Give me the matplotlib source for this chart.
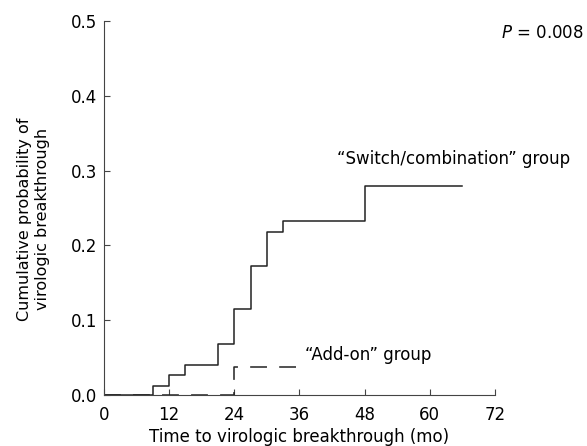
import matplotlib
matplotlib.use("Agg")
import matplotlib.pyplot as plt

# Kaplan-Meier style step data (months, cumulative prob.)
switch_t = [0, 9, 12, 15, 21, 24, 27, 30, 33, 48, 66]
switch_p = [0.0, 0.0125, 0.027, 0.040, 0.069, 0.115, 0.172, 0.218, 0.233, 0.279, 0.279]

addon_t = [0, 24, 36]
addon_p = [0.0, 0.038, 0.038]

x_ticks = [0, 12, 24, 36, 48, 60, 72]
y_ticks = [0.0, 0.1, 0.2, 0.3, 0.4, 0.5]

plt.rcParams['font.family'] = ['DejaVu Sans']

fig = plt.figure(figsize=(5.87, 4.46), dpi=100)
ax = fig.add_axes([0.177, 0.114, 0.666, 0.839])

ax.step(switch_t, switch_p, where='post', color='#222222', lw=1.1)
ax.step(addon_t, addon_p, where='post', color='#222222', lw=1.1,
        linestyle=(0, (11, 8)))

ax.set_xlim(0, 72)
ax.set_ylim(0, 0.5)
ax.set_xticks(x_ticks)
ax.set_yticks(y_ticks)
ax.set_yticklabels([f"{v:.1f}" for v in y_ticks])

for side in ['top', 'right']:
    ax.spines[side].set_visible(False)
for side in ['left', 'bottom']:
    ax.spines[side].set_color('#444444')
ax.tick_params(direction='in', length=4, color='#444444', labelsize=12)
ax.tick_params(axis='x', pad=8)
ax.tick_params(axis='y', pad=5)

ax.set_xlabel('Time to virologic breakthrough (mo)', fontsize=12, labelpad=3)
ax.set_ylabel('Cumulative probability of\nvirologic breakthrough',
              fontsize=11.5, labelpad=15, y=0.47)

ax.text(43, 0.316, '\u201cSwitch/combination\u201d group', fontsize=12,
        va='center', ha='left')
ax.text(37, 0.053, '\u201cAdd-on\u201d group', fontsize=12,
        va='center', ha='left')
fig.text(0.995, 0.926, r'$\it{P}$ = 0.008', fontsize=12, ha='right',
         va='center')

fig.savefig('out.png', dpi=100)
